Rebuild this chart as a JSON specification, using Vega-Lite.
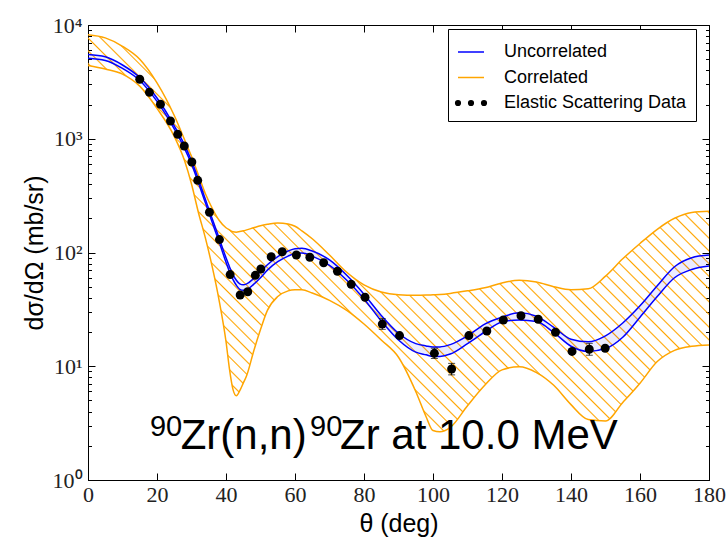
{
"$schema": "https://vega.github.io/schema/vega-lite/v6.json",
"width": 621, "height": 455,
"autosize": {"type": "none"},
"padding": {"left": 88, "top": 25, "right": 19, "bottom": 59},
"datasets": {
"curves": [
{"t":0,"ohi":8200,"olo":4400,"bhi":5500,"blo":5100},
{"t":5,"ohi":7700,"olo":4100,"bhi":5250,"blo":4880},
{"t":10,"ohi":6500,"olo":3700,"bhi":4450,"blo":4150},
{"t":15,"ohi":5000,"olo":2900,"bhi":3450,"blo":3250},
{"t":20,"ohi":3100,"olo":1850,"bhi":2280,"blo":2130},
{"t":25,"ohi":1600,"olo":1050,"bhi":1300,"blo":1220},
{"t":28,"ohi":980,"olo":640,"bhi":880,"blo":820},
{"t":30,"ohi":700,"olo":400,"bhi":640,"blo":600},
{"t":32,"ohi":480,"olo":225,"bhi":440,"blo":410},
{"t":34,"ohi":330,"olo":135,"bhi":295,"blo":275},
{"t":36,"ohi":245,"olo":75,"bhi":198,"blo":184},
{"t":38,"ohi":192,"olo":38,"bhi":134,"blo":124},
{"t":40,"ohi":165,"olo":16.5,"bhi":90,"blo":82},
{"t":41,"ohi":158,"olo":9.5,"bhi":75,"blo":68},
{"t":42,"ohi":152,"olo":6.3,"bhi":64,"blo":58},
{"t":43,"ohi":151,"olo":5.5,"bhi":57,"blo":51.5},
{"t":44,"ohi":153,"olo":6.1,"bhi":53,"blo":47.5},
{"t":45,"ohi":155,"olo":7.1,"bhi":52,"blo":46.5},
{"t":46,"ohi":158,"olo":8.3,"bhi":53,"blo":47},
{"t":48,"ohi":165,"olo":13.5,"bhi":59,"blo":52.5},
{"t":50,"ohi":172,"olo":21,"bhi":68,"blo":60},
{"t":52,"ohi":177,"olo":31,"bhi":78,"blo":70},
{"t":55,"ohi":182,"olo":41,"bhi":92,"blo":83},
{"t":58,"ohi":178,"olo":46,"bhi":103,"blo":93},
{"t":60,"ohi":170,"olo":47,"bhi":108,"blo":98},
{"t":62,"ohi":155,"olo":47,"bhi":109,"blo":99},
{"t":65,"ohi":132,"olo":44,"bhi":103,"blo":93},
{"t":70,"ohi":95,"olo":38,"bhi":86,"blo":77},
{"t":75,"ohi":67,"olo":31,"bhi":63,"blo":57},
{"t":80,"ohi":52,"olo":23.5,"bhi":43,"blo":39},
{"t":85,"ohi":45,"olo":17,"bhi":28,"blo":25},
{"t":90,"ohi":42.5,"olo":12,"bhi":19.5,"blo":17},
{"t":95,"ohi":42,"olo":6,"bhi":15.8,"blo":13.3},
{"t":98,"ohi":42.2,"olo":3.6,"bhi":15.1,"blo":12.6},
{"t":100,"ohi":42.5,"olo":2.72,"bhi":14.8,"blo":12.2},
{"t":102,"ohi":42.8,"olo":2.65,"bhi":14.8,"blo":12.2},
{"t":105,"ohi":43.7,"olo":2.9,"bhi":15.5,"blo":12.8},
{"t":110,"ohi":46,"olo":4.5,"bhi":18.5,"blo":15.8},
{"t":115,"ohi":49,"olo":6.8,"bhi":23.5,"blo":20},
{"t":120,"ohi":54,"olo":9.3,"bhi":27,"blo":24.5},
{"t":125,"ohi":57,"olo":9.9,"bhi":29.5,"blo":25.5},
{"t":130,"ohi":55,"olo":8.8,"bhi":27.5,"blo":24.7},
{"t":135,"ohi":50,"olo":6.8,"bhi":22,"blo":19.8},
{"t":140,"ohi":47,"olo":4.6,"bhi":17.3,"blo":15},
{"t":145,"ohi":48,"olo":3.4,"bhi":16.4,"blo":13.5},
{"t":150,"ohi":62,"olo":3.3,"bhi":18.5,"blo":14.3},
{"t":155,"ohi":88,"olo":4.8,"bhi":24,"blo":18},
{"t":160,"ohi":120,"olo":7.1,"bhi":34,"blo":27},
{"t":165,"ohi":160,"olo":11,"bhi":51,"blo":41},
{"t":170,"ohi":200,"olo":13.8,"bhi":75,"blo":60},
{"t":175,"ohi":225,"olo":15,"bhi":90,"blo":71},
{"t":180,"ohi":230,"olo":15.4,"bhi":95,"blo":76}
],
"pts": [
{"t":15,"v":3334},{"t":17.8,"v":2560},{"t":21,"v":2009},{"t":23.9,"v":1432},{"t":26,"v":1094},
{"t":27.9,"v":864},{"t":30.1,"v":625},{"t":31.8,"v":431},{"t":35.2,"v":226},{"t":38.1,"v":130},
{"t":41.2,"v":64},{"t":44.1,"v":42.3},{"t":46.3,"v":45.2},{"t":48.5,"v":63},{"t":50.1,"v":71.6},
{"t":53.1,"v":91.8},{"t":56.3,"v":101.6},{"t":60.4,"v":95},{"t":64.3,"v":90.8},{"t":68.3,"v":81.3},
{"t":72.3,"v":68.4},{"t":76.3,"v":52.5},{"t":80.3,"v":40.4},{"t":85.3,"v":23.5},{"t":90.3,"v":18.6},
{"t":100.4,"v":13.0},{"t":105.4,"v":9.46},{"t":110.4,"v":18.6},{"t":115.6,"v":20.4},{"t":120.4,"v":25.5},
{"t":125.5,"v":27.8},{"t":130.5,"v":25.9},{"t":135.5,"v":19.9},{"t":140.3,"v":13.5},{"t":145.3,"v":14.1},
{"t":149.9,"v":14.4}
],
"errs": [
{"t":85.3,"lo":21.1,"hi":26.2},{"t":100.4,"lo":11.7,"hi":14.4},{"t":105.4,"lo":8.4,"hi":10.6},{"t":145.3,"lo":12.5,"hi":15.9}
]
},
"layer": [
{"layer": [
{"data": {"name": "curves"},
 "mark": {"type": "area", "interpolate": "monotone",
  "fill": {"gradient": "linear", "x1": 0, "y1": 1, "x2": 1.163, "y2": 0.2545, "stops": [
{"offset":0,"color":"#ffa500"},{"offset":0.0015,"color":"rgba(255,165,0,0)"},{"offset":0.011,"color":"rgba(255,165,0,0)"},
{"offset":0.0125,"color":"#ffa500"},{"offset":0.014,"color":"rgba(255,165,0,0)"},{"offset":0.0235,"color":"rgba(255,165,0,0)"},
{"offset":0.025,"color":"#ffa500"},{"offset":0.0265,"color":"rgba(255,165,0,0)"},{"offset":0.036,"color":"rgba(255,165,0,0)"},
{"offset":0.0375,"color":"#ffa500"},{"offset":0.039,"color":"rgba(255,165,0,0)"},{"offset":0.0485,"color":"rgba(255,165,0,0)"},
{"offset":0.05,"color":"#ffa500"},{"offset":0.0515,"color":"rgba(255,165,0,0)"},{"offset":0.061,"color":"rgba(255,165,0,0)"},
{"offset":0.0625,"color":"#ffa500"},{"offset":0.064,"color":"rgba(255,165,0,0)"},{"offset":0.0735,"color":"rgba(255,165,0,0)"},
{"offset":0.075,"color":"#ffa500"},{"offset":0.0765,"color":"rgba(255,165,0,0)"},{"offset":0.086,"color":"rgba(255,165,0,0)"},
{"offset":0.0875,"color":"#ffa500"},{"offset":0.089,"color":"rgba(255,165,0,0)"},{"offset":0.0985,"color":"rgba(255,165,0,0)"},
{"offset":0.1,"color":"#ffa500"},{"offset":0.1015,"color":"rgba(255,165,0,0)"},{"offset":0.111,"color":"rgba(255,165,0,0)"},
{"offset":0.1125,"color":"#ffa500"},{"offset":0.114,"color":"rgba(255,165,0,0)"},{"offset":0.1235,"color":"rgba(255,165,0,0)"},
{"offset":0.125,"color":"#ffa500"},{"offset":0.1265,"color":"rgba(255,165,0,0)"},{"offset":0.136,"color":"rgba(255,165,0,0)"},
{"offset":0.1375,"color":"#ffa500"},{"offset":0.139,"color":"rgba(255,165,0,0)"},{"offset":0.1485,"color":"rgba(255,165,0,0)"},
{"offset":0.15,"color":"#ffa500"},{"offset":0.1515,"color":"rgba(255,165,0,0)"},{"offset":0.161,"color":"rgba(255,165,0,0)"},
{"offset":0.1625,"color":"#ffa500"},{"offset":0.164,"color":"rgba(255,165,0,0)"},{"offset":0.1735,"color":"rgba(255,165,0,0)"},
{"offset":0.175,"color":"#ffa500"},{"offset":0.1765,"color":"rgba(255,165,0,0)"},{"offset":0.186,"color":"rgba(255,165,0,0)"},
{"offset":0.1875,"color":"#ffa500"},{"offset":0.189,"color":"rgba(255,165,0,0)"},{"offset":0.1985,"color":"rgba(255,165,0,0)"},
{"offset":0.2,"color":"#ffa500"},{"offset":0.2015,"color":"rgba(255,165,0,0)"},{"offset":0.211,"color":"rgba(255,165,0,0)"},
{"offset":0.2125,"color":"#ffa500"},{"offset":0.214,"color":"rgba(255,165,0,0)"},{"offset":0.2235,"color":"rgba(255,165,0,0)"},
{"offset":0.225,"color":"#ffa500"},{"offset":0.2265,"color":"rgba(255,165,0,0)"},{"offset":0.236,"color":"rgba(255,165,0,0)"},
{"offset":0.2375,"color":"#ffa500"},{"offset":0.239,"color":"rgba(255,165,0,0)"},{"offset":0.2485,"color":"rgba(255,165,0,0)"},
{"offset":0.25,"color":"#ffa500"},{"offset":0.2515,"color":"rgba(255,165,0,0)"},{"offset":0.261,"color":"rgba(255,165,0,0)"},
{"offset":0.2625,"color":"#ffa500"},{"offset":0.264,"color":"rgba(255,165,0,0)"},{"offset":0.2735,"color":"rgba(255,165,0,0)"},
{"offset":0.275,"color":"#ffa500"},{"offset":0.2765,"color":"rgba(255,165,0,0)"},{"offset":0.286,"color":"rgba(255,165,0,0)"},
{"offset":0.2875,"color":"#ffa500"},{"offset":0.289,"color":"rgba(255,165,0,0)"},{"offset":0.2985,"color":"rgba(255,165,0,0)"},
{"offset":0.3,"color":"#ffa500"},{"offset":0.3015,"color":"rgba(255,165,0,0)"},{"offset":0.311,"color":"rgba(255,165,0,0)"},
{"offset":0.3125,"color":"#ffa500"},{"offset":0.314,"color":"rgba(255,165,0,0)"},{"offset":0.3235,"color":"rgba(255,165,0,0)"},
{"offset":0.325,"color":"#ffa500"},{"offset":0.3265,"color":"rgba(255,165,0,0)"},{"offset":0.336,"color":"rgba(255,165,0,0)"},
{"offset":0.3375,"color":"#ffa500"},{"offset":0.339,"color":"rgba(255,165,0,0)"},{"offset":0.3485,"color":"rgba(255,165,0,0)"},
{"offset":0.35,"color":"#ffa500"},{"offset":0.3515,"color":"rgba(255,165,0,0)"},{"offset":0.361,"color":"rgba(255,165,0,0)"},
{"offset":0.3625,"color":"#ffa500"},{"offset":0.364,"color":"rgba(255,165,0,0)"},{"offset":0.3735,"color":"rgba(255,165,0,0)"},
{"offset":0.375,"color":"#ffa500"},{"offset":0.3765,"color":"rgba(255,165,0,0)"},{"offset":0.386,"color":"rgba(255,165,0,0)"},
{"offset":0.3875,"color":"#ffa500"},{"offset":0.389,"color":"rgba(255,165,0,0)"},{"offset":0.3985,"color":"rgba(255,165,0,0)"},
{"offset":0.4,"color":"#ffa500"},{"offset":0.4015,"color":"rgba(255,165,0,0)"},{"offset":0.411,"color":"rgba(255,165,0,0)"},
{"offset":0.4125,"color":"#ffa500"},{"offset":0.414,"color":"rgba(255,165,0,0)"},{"offset":0.4235,"color":"rgba(255,165,0,0)"},
{"offset":0.425,"color":"#ffa500"},{"offset":0.4265,"color":"rgba(255,165,0,0)"},{"offset":0.436,"color":"rgba(255,165,0,0)"},
{"offset":0.4375,"color":"#ffa500"},{"offset":0.439,"color":"rgba(255,165,0,0)"},{"offset":0.4485,"color":"rgba(255,165,0,0)"},
{"offset":0.45,"color":"#ffa500"},{"offset":0.4515,"color":"rgba(255,165,0,0)"},{"offset":0.461,"color":"rgba(255,165,0,0)"},
{"offset":0.4625,"color":"#ffa500"},{"offset":0.464,"color":"rgba(255,165,0,0)"},{"offset":0.4735,"color":"rgba(255,165,0,0)"},
{"offset":0.475,"color":"#ffa500"},{"offset":0.4765,"color":"rgba(255,165,0,0)"},{"offset":0.486,"color":"rgba(255,165,0,0)"},
{"offset":0.4875,"color":"#ffa500"},{"offset":0.489,"color":"rgba(255,165,0,0)"},{"offset":0.4985,"color":"rgba(255,165,0,0)"},
{"offset":0.5,"color":"#ffa500"},{"offset":0.5015,"color":"rgba(255,165,0,0)"},{"offset":0.511,"color":"rgba(255,165,0,0)"},
{"offset":0.5125,"color":"#ffa500"},{"offset":0.514,"color":"rgba(255,165,0,0)"},{"offset":0.5235,"color":"rgba(255,165,0,0)"},
{"offset":0.525,"color":"#ffa500"},{"offset":0.5265,"color":"rgba(255,165,0,0)"},{"offset":0.536,"color":"rgba(255,165,0,0)"},
{"offset":0.5375,"color":"#ffa500"},{"offset":0.539,"color":"rgba(255,165,0,0)"},{"offset":0.5485,"color":"rgba(255,165,0,0)"},
{"offset":0.55,"color":"#ffa500"},{"offset":0.5515,"color":"rgba(255,165,0,0)"},{"offset":0.561,"color":"rgba(255,165,0,0)"},
{"offset":0.5625,"color":"#ffa500"},{"offset":0.564,"color":"rgba(255,165,0,0)"},{"offset":0.5735,"color":"rgba(255,165,0,0)"},
{"offset":0.575,"color":"#ffa500"},{"offset":0.5765,"color":"rgba(255,165,0,0)"},{"offset":0.586,"color":"rgba(255,165,0,0)"},
{"offset":0.5875,"color":"#ffa500"},{"offset":0.589,"color":"rgba(255,165,0,0)"},{"offset":0.5985,"color":"rgba(255,165,0,0)"},
{"offset":0.6,"color":"#ffa500"},{"offset":0.6015,"color":"rgba(255,165,0,0)"},{"offset":0.611,"color":"rgba(255,165,0,0)"},
{"offset":0.6125,"color":"#ffa500"},{"offset":0.614,"color":"rgba(255,165,0,0)"},{"offset":0.6235,"color":"rgba(255,165,0,0)"},
{"offset":0.625,"color":"#ffa500"},{"offset":0.6265,"color":"rgba(255,165,0,0)"},{"offset":0.636,"color":"rgba(255,165,0,0)"},
{"offset":0.6375,"color":"#ffa500"},{"offset":0.639,"color":"rgba(255,165,0,0)"},{"offset":0.6485,"color":"rgba(255,165,0,0)"},
{"offset":0.65,"color":"#ffa500"},{"offset":0.6515,"color":"rgba(255,165,0,0)"},{"offset":0.661,"color":"rgba(255,165,0,0)"},
{"offset":0.6625,"color":"#ffa500"},{"offset":0.664,"color":"rgba(255,165,0,0)"},{"offset":0.6735,"color":"rgba(255,165,0,0)"},
{"offset":0.675,"color":"#ffa500"},{"offset":0.6765,"color":"rgba(255,165,0,0)"},{"offset":0.686,"color":"rgba(255,165,0,0)"},
{"offset":0.6875,"color":"#ffa500"},{"offset":0.689,"color":"rgba(255,165,0,0)"},{"offset":0.6985,"color":"rgba(255,165,0,0)"},
{"offset":0.7,"color":"#ffa500"},{"offset":0.7015,"color":"rgba(255,165,0,0)"},{"offset":0.711,"color":"rgba(255,165,0,0)"},
{"offset":0.7125,"color":"#ffa500"},{"offset":0.714,"color":"rgba(255,165,0,0)"},{"offset":0.7235,"color":"rgba(255,165,0,0)"},
{"offset":0.725,"color":"#ffa500"},{"offset":0.7265,"color":"rgba(255,165,0,0)"},{"offset":0.736,"color":"rgba(255,165,0,0)"},
{"offset":0.7375,"color":"#ffa500"},{"offset":0.739,"color":"rgba(255,165,0,0)"},{"offset":0.7485,"color":"rgba(255,165,0,0)"},
{"offset":0.75,"color":"#ffa500"},{"offset":0.7515,"color":"rgba(255,165,0,0)"},{"offset":0.761,"color":"rgba(255,165,0,0)"},
{"offset":0.7625,"color":"#ffa500"},{"offset":0.764,"color":"rgba(255,165,0,0)"},{"offset":0.7735,"color":"rgba(255,165,0,0)"},
{"offset":0.775,"color":"#ffa500"},{"offset":0.7765,"color":"rgba(255,165,0,0)"},{"offset":0.786,"color":"rgba(255,165,0,0)"},
{"offset":0.7875,"color":"#ffa500"},{"offset":0.789,"color":"rgba(255,165,0,0)"},{"offset":0.7985,"color":"rgba(255,165,0,0)"},
{"offset":0.8,"color":"#ffa500"},{"offset":0.8015,"color":"rgba(255,165,0,0)"},{"offset":0.811,"color":"rgba(255,165,0,0)"},
{"offset":0.8125,"color":"#ffa500"},{"offset":0.814,"color":"rgba(255,165,0,0)"},{"offset":0.8235,"color":"rgba(255,165,0,0)"},
{"offset":0.825,"color":"#ffa500"},{"offset":0.8265,"color":"rgba(255,165,0,0)"},{"offset":0.836,"color":"rgba(255,165,0,0)"},
{"offset":0.8375,"color":"#ffa500"},{"offset":0.839,"color":"rgba(255,165,0,0)"},{"offset":0.8485,"color":"rgba(255,165,0,0)"},
{"offset":0.85,"color":"#ffa500"},{"offset":0.8515,"color":"rgba(255,165,0,0)"},{"offset":0.861,"color":"rgba(255,165,0,0)"},
{"offset":0.8625,"color":"#ffa500"},{"offset":0.864,"color":"rgba(255,165,0,0)"},{"offset":0.8735,"color":"rgba(255,165,0,0)"},
{"offset":0.875,"color":"#ffa500"},{"offset":0.8765,"color":"rgba(255,165,0,0)"},{"offset":0.886,"color":"rgba(255,165,0,0)"},
{"offset":0.8875,"color":"#ffa500"},{"offset":0.889,"color":"rgba(255,165,0,0)"},{"offset":0.8985,"color":"rgba(255,165,0,0)"},
{"offset":0.9,"color":"#ffa500"},{"offset":0.9015,"color":"rgba(255,165,0,0)"},{"offset":0.911,"color":"rgba(255,165,0,0)"},
{"offset":0.9125,"color":"#ffa500"},{"offset":0.914,"color":"rgba(255,165,0,0)"},{"offset":0.9235,"color":"rgba(255,165,0,0)"},
{"offset":0.925,"color":"#ffa500"},{"offset":0.9265,"color":"rgba(255,165,0,0)"},{"offset":0.936,"color":"rgba(255,165,0,0)"},
{"offset":0.9375,"color":"#ffa500"},{"offset":0.939,"color":"rgba(255,165,0,0)"},{"offset":0.9485,"color":"rgba(255,165,0,0)"},
{"offset":0.95,"color":"#ffa500"},{"offset":0.9515,"color":"rgba(255,165,0,0)"},{"offset":0.961,"color":"rgba(255,165,0,0)"},
{"offset":0.9625,"color":"#ffa500"},{"offset":0.964,"color":"rgba(255,165,0,0)"},{"offset":0.9735,"color":"rgba(255,165,0,0)"},
{"offset":0.975,"color":"#ffa500"},{"offset":0.9765,"color":"rgba(255,165,0,0)"},{"offset":0.986,"color":"rgba(255,165,0,0)"},
{"offset":0.9875,"color":"#ffa500"},{"offset":0.989,"color":"rgba(255,165,0,0)"},{"offset":0.9985,"color":"rgba(255,165,0,0)"},
{"offset":1,"color":"#ffa500"}
  ]}},
 "encoding": {
  "x": {"field": "t", "type": "quantitative", "scale": {"domain": [0, 180], "nice": false, "zero": false}, "title": "θ (deg)",
        "axis": {"values": [0,20,40,60,80,100,120,140,160,180], "tickSize": -7, "labelPadding": 11, "labelFlush": false, "titlePadding": 6}},
  "y": {"field": "olo", "type": "quantitative", "scale": {"type": "log", "domain": [1, 10000], "nice": false}, "title": "dσ/dΩ (mb/sr)",
        "axis": {"values": [1,2,3,4,5,6,7,8,9,10,20,30,40,50,60,70,80,90,100,200,300,400,500,600,700,800,900,1000,2000,3000,4000,5000,6000,7000,8000,9000,10000],
                 "labelExpr": "datum.value == 1 ? '10⁰' : datum.value == 10 ? '10¹' : datum.value == 100 ? '10²' : datum.value == 1000 ? '10³' : datum.value == 10000 ? '10⁴' : ''",
                 "tickSize": {"condition": {"test": "datum.value == 1 || datum.value == 10 || datum.value == 100 || datum.value == 1000 || datum.value == 10000", "value": -7}, "value": -3.5},
                 "labelPadding": 13, "titlePadding": 5}},
  "y2": {"field": "ohi"}
 }},
{"data": {"name": "curves"},
 "mark": {"type": "area", "interpolate": "monotone", "fill": "#0000ff", "fillOpacity": 0.08},
 "encoding": {"x": {"field": "t", "type": "quantitative", "title": "θ (deg)"}, "y": {"field": "blo", "type": "quantitative", "title": "dσ/dΩ (mb/sr)"}, "y2": {"field": "bhi"}}},
{"data": {"name": "curves"},
 "mark": {"type": "line", "interpolate": "monotone", "strokeWidth": 1.5},
 "encoding": {"x": {"field": "t", "type": "quantitative", "title": "θ (deg)"}, "y": {"field": "ohi", "type": "quantitative", "title": "dσ/dΩ (mb/sr)"},
  "color": {"datum": "Correlated", "scale": {"domain": ["Uncorrelated", "Correlated", "Elastic Scattering Data"], "range": ["#0000ff", "#ffa500", "#000000"]},
   "legend": {"title": null, "encode": {"symbols": {"update": {
     "shape": {"signal": "datum.value === 'Elastic Scattering Data' ? 'M-1.18,0a0.18,0.18 0 1,0 0.36,0a0.18,0.18 0 1,0 -0.36,0ZM-0.18,0a0.18,0.18 0 1,0 0.36,0a0.18,0.18 0 1,0 -0.36,0ZM0.82,0a0.18,0.18 0 1,0 0.36,0a0.18,0.18 0 1,0 -0.36,0Z' : 'stroke'"},
     "fill": {"signal": "datum.value === 'Elastic Scattering Data' ? '#000000' : 'transparent'"},
     "stroke": {"signal": "datum.value === 'Uncorrelated' ? '#0000ff' : datum.value === 'Correlated' ? '#ffa500' : 'transparent'"},
     "strokeWidth": {"value": 1.5},
     "opacity": {"value": 1}}}}}}}},
{"data": {"name": "curves"},
 "mark": {"type": "line", "interpolate": "monotone", "strokeWidth": 1.5},
 "encoding": {"x": {"field": "t", "type": "quantitative", "title": "θ (deg)"}, "y": {"field": "olo", "type": "quantitative", "title": "dσ/dΩ (mb/sr)"}, "color": {"datum": "Correlated"}}},
{"data": {"name": "curves"},
 "mark": {"type": "line", "interpolate": "monotone", "strokeWidth": 1.5},
 "encoding": {"x": {"field": "t", "type": "quantitative", "title": "θ (deg)"}, "y": {"field": "bhi", "type": "quantitative", "title": "dσ/dΩ (mb/sr)"}, "color": {"datum": "Uncorrelated"}}},
{"data": {"name": "curves"},
 "mark": {"type": "line", "interpolate": "monotone", "strokeWidth": 1.5},
 "encoding": {"x": {"field": "t", "type": "quantitative", "title": "θ (deg)"}, "y": {"field": "blo", "type": "quantitative", "title": "dσ/dΩ (mb/sr)"}, "color": {"datum": "Uncorrelated"}}},
{"data": {"name": "errs"},
 "mark": {"type": "errorbar", "ticks": {"size": 7, "thickness": 1, "color": "#000000"}, "rule": {"color": "#000000", "strokeWidth": 1}},
 "encoding": {"x": {"field": "t", "type": "quantitative", "title": "θ (deg)"}, "y": {"field": "lo", "type": "quantitative", "title": "dσ/dΩ (mb/sr)"}, "y2": {"field": "hi"}}},
{"data": {"name": "pts"},
 "mark": {"type": "circle", "size": 80, "opacity": 1},
 "encoding": {"x": {"field": "t", "type": "quantitative", "title": "θ (deg)"}, "y": {"field": "v", "type": "quantitative", "title": "dσ/dΩ (mb/sr)"}, "color": {"datum": "Elastic Scattering Data"}}},
{"data": {"values": [{}]},
 "mark": {"type": "text", "text": "90", "font": "Liberation Sans", "fontSize": 29, "align": "left", "baseline": "alphabetic", "color": "#000000"},
 "encoding": {"x": {"datum": 17.97}, "y": {"datum": 2.437}}},
{"data": {"values": [{}]},
 "mark": {"type": "text", "text": "Zr(n,n)", "font": "Liberation Sans", "fontSize": 42, "align": "left", "baseline": "alphabetic", "color": "#000000"},
 "encoding": {"x": {"datum": 26.87}, "y": {"datum": 1.862}}},
{"data": {"values": [{}]},
 "mark": {"type": "text", "text": "90", "font": "Liberation Sans", "fontSize": 29, "align": "left", "baseline": "alphabetic", "color": "#000000"},
 "encoding": {"x": {"datum": 64.35}, "y": {"datum": 2.437}}},
{"data": {"values": [{}]},
 "mark": {"type": "text", "text": "Zr at 10.0 MeV", "font": "Liberation Sans", "fontSize": 42, "align": "left", "baseline": "alphabetic", "color": "#000000"},
 "encoding": {"x": {"datum": 73.04}, "y": {"datum": 1.862}}}
]},
{"data": {"name": "curves"},
 "mark": {"type": "point", "opacity": 0},
 "encoding": {
  "x": {"field": "t", "type": "quantitative", "axis": {"orient": "top", "title": null, "labels": false, "values": [0,20,40,60,80,100,120,140,160,180], "tickSize": -7}},
  "y": {"field": "bhi", "type": "quantitative", "axis": {"orient": "right", "title": null, "labels": false,
        "values": [1,2,3,4,5,6,7,8,9,10,20,30,40,50,60,70,80,90,100,200,300,400,500,600,700,800,900,1000,2000,3000,4000,5000,6000,7000,8000,9000,10000],
        "tickSize": {"condition": {"test": "datum.value == 1 || datum.value == 10 || datum.value == 100 || datum.value == 1000 || datum.value == 10000", "value": -7}, "value": -3.5}}}
 }}
],
"resolve": {"axis": {"x": "independent", "y": "independent"}},
"config": {
 "view": {"stroke": "#000000", "strokeWidth": 1},
 "axis": {"grid": false, "domainColor": "#000000", "tickColor": "#000000", "labelFont": "Liberation Serif", "labelFontSize": 22, "labelColor": "#222222",
          "titleFont": "Liberation Sans", "titleFontSize": 25, "titleFontWeight": "normal", "titleColor": "#000000", "zindex": 1},
 "legend": {"orient": "none", "legendX": 360, "legendY": 4, "padding": 9, "strokeColor": "#000000", "strokeWidth": 1, "fillColor": "#ffffff", "cornerRadius": 0,
            "labelFont": "Liberation Sans", "labelFontSize": 18, "labelColor": "#000000", "labelLimit": 400, "symbolSize": 676, "symbolStrokeWidth": 1.5, "labelOffset": 19, "rowPadding": 2.5}
}
}
